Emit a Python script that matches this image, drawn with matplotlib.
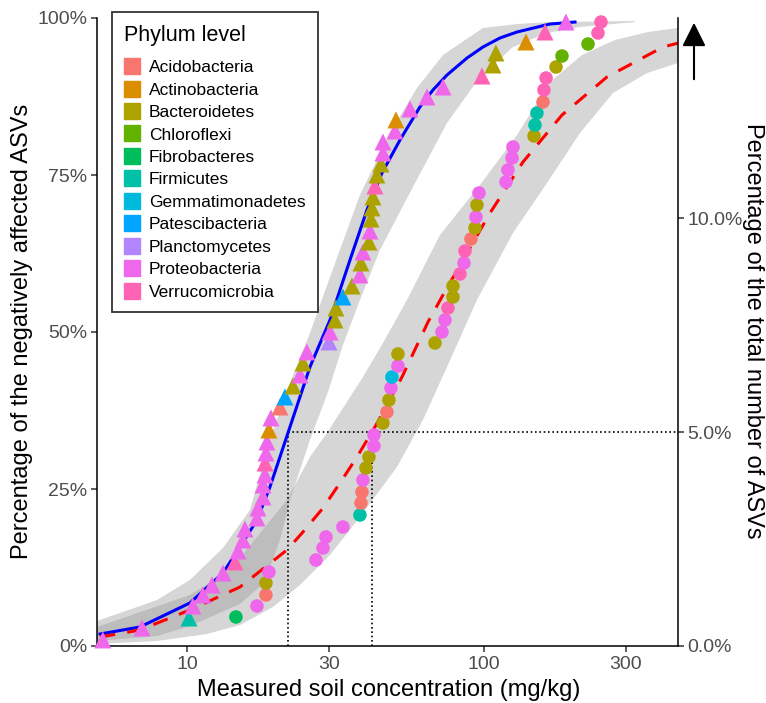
import numpy as np
import matplotlib.pyplot as plt
from matplotlib.lines import Line2D

plt.rcParams['font.family'] = ['Liberation Sans', 'DejaVu Sans']

# phylum names and ggplot hue colours
phyla = ['Acidobacteria', 'Actinobacteria', 'Bacteroidetes', 'Chloroflexi', 'Fibrobacteres',
         'Firmicutes', 'Gemmatimonadetes', 'Patescibacteria', 'Planctomycetes',
         'Proteobacteria', 'Verrucomicrobia']
colors = ['#F8766D', '#DB8E00', '#AEA200', '#64B200', '#00BD5C', '#00C1A7',
          '#00BADE', '#00A6FF', '#B385FF', '#EF67EB', '#FF63B6']
short = {'Aci': 0, 'Act': 1, 'Bac': 2, 'Chl': 3, 'Fib': 4, 'Fir': 5,
         'Gem': 6, 'Pat': 7, 'Pla': 8, 'Pro': 9, 'Ver': 10}

# triangles (first group)
tri_x = [5.21, 7.06, 10.16, 10.47, 11.32, 12.14, 13.22, 14.51, 14.85, 15.44,
         15.68, 17.21, 17.34, 18.03, 18.03, 18.31, 18.31, 18.45, 18.60, 18.88,
         19.18, 20.56, 21.38, 22.75, 24.02, 24.58, 25.35, 30.07, 30.31, 31.50,
         31.75, 33.51, 35.94, 38.23, 38.53, 39.13, 41.00, 41.32, 41.64, 41.97,
         42.30, 42.95, 43.62, 45.00, 45.70, 45.70, 50.15, 50.54, 56.35, 64.29,
         72.78, 98.46, 107.2, 109.7, 138.5, 160.5, 188.8]
tri_y = [0.96, 2.87, 4.46, 6.37, 8.12, 9.71, 11.62, 13.38, 15.13, 16.88,
         18.63, 20.38, 21.97, 23.73, 25.64, 27.23, 29.14, 30.73, 32.48, 34.39,
         36.31, 38.06, 39.65, 41.40, 43.15, 45.06, 46.82, 48.41, 50.00, 51.91,
         53.82, 55.57, 57.32, 59.08, 60.99, 62.74, 64.33, 66.08, 67.99, 69.75,
         71.50, 73.25, 75.00, 76.75, 78.50, 80.25, 82.01, 83.76, 85.51, 87.42,
         89.01, 90.76, 92.52, 94.43, 96.18, 97.77, 99.36]
tri_ph = ['Pro', 'Pro', 'Fir', 'Pro', 'Pro', 'Pro', 'Pro', 'Ver', 'Pro', 'Pro',
          'Pro', 'Pro', 'Pro', 'Pro', 'Pro', 'Pro', 'Ver', 'Pro', 'Pro', 'Act',
          'Pro', 'Aci', 'Pat', 'Bac', 'Pro', 'Bac', 'Pro', 'Pla', 'Pro', 'Bac',
          'Bac', 'Pat', 'Bac', 'Pro', 'Bac', 'Pro', 'Bac', 'Pro', 'Bac', 'Bac',
          'Bac', 'Ver', 'Bac', 'Bac', 'Pro', 'Pro', 'Pro', 'Act', 'Pro', 'Pro',
          'Pro', 'Ver', 'Bac', 'Bac', 'Act', 'Ver', 'Pro']

# circles (second group)
cir_x = [14.62, 17.21, 18.45, 18.45, 18.88, 27.19, 28.71, 29.38, 33.51, 38.23,
         38.53, 38.83, 39.13, 40.06, 41.00, 42.62, 42.62, 45.70, 47.13, 47.87,
         48.62, 49.00, 51.33, 51.33, 68.39, 72.22, 73.91, 75.65, 78.64, 78.64,
         83.04, 85.65, 86.30, 90.41, 93.26, 93.99, 94.71, 96.20, 118.6, 120.4,
         124.3, 125.2, 147.4, 148.5, 150.8, 158.0, 159.2, 161.8, 174.8, 183.1,
         224.0, 242.0, 247.7]
cir_y = [4.62, 6.37, 8.12, 10.03, 11.78, 13.69, 15.61, 17.36, 18.95, 20.86,
         22.77, 24.52, 26.43, 28.34, 30.10, 31.85, 33.60, 35.51, 37.26, 39.17,
         41.08, 42.83, 44.59, 46.50, 48.25, 50.00, 51.91, 53.82, 55.57, 57.32,
         59.24, 60.99, 62.90, 64.81, 66.56, 68.31, 70.22, 72.13, 73.89, 75.80,
         77.71, 79.46, 81.21, 82.96, 84.87, 86.62, 88.54, 90.45, 92.20, 93.95,
         95.86, 97.61, 99.36]
cir_ph = ['Fib', 'Pro', 'Aci', 'Bac', 'Pro', 'Pro', 'Pro', 'Pro', 'Pro', 'Fir',
          'Aci', 'Aci', 'Pro', 'Bac', 'Bac', 'Pro', 'Pro', 'Bac', 'Aci', 'Bac',
          'Pro', 'Gem', 'Pro', 'Bac', 'Bac', 'Pro', 'Pro', 'Ver', 'Bac', 'Bac',
          'Ver', 'Pro', 'Ver', 'Aci', 'Bac', 'Pro', 'Bac', 'Pro', 'Pro', 'Pro',
          'Pro', 'Pro', 'Bac', 'Fir', 'Fir', 'Aci', 'Ver', 'Ver', 'Bac', 'Chl',
          'Chl', 'Ver', 'Ver']

# fitted curves
blue_x = [5.10, 6.95, 10.23, 13.22, 15.08, 17.21, 19.03, 21.88, 25.95, 30.31,
          35.39, 40.37, 45.35, 52.14, 60.86, 67.35, 75.07, 87.67, 99.22, 113.2,
          129.2, 166.8, 202.5]
blue_y = [1.91, 3.03, 6.85, 11.62, 15.76, 20.06, 25.32, 33.92, 44.43, 51.91,
          61.46, 69.43, 75.32, 80.57, 85.83, 88.54, 90.92, 93.63, 95.38, 96.82,
          97.77, 99.04, 99.36]
red_x = [5.10, 6.95, 10.23, 15.08, 21.71, 24.58, 28.71, 32.75, 37.36, 42.95,
         52.96, 64.79, 72.78, 104.8, 135.3, 183.1, 259.5, 400.6, 450.0]
red_y = [1.43, 2.55, 5.73, 9.39, 15.29, 18.15, 21.97, 25.96, 30.10, 34.87,
         42.83, 51.59, 55.89, 68.95, 77.07, 84.55, 90.61, 95.38, 96.00]

# confidence bands (upper and lower edges)
bu_x = [4.98, 7.93, 10.23, 13.22, 16.30, 18.74, 21.88, 25.95, 31.99, 38.23,
        48.25, 59.48, 72.78, 99.22, 129.2, 166.8, 322.4]
bu_y = [3.98, 7.32, 10.51, 15.61, 21.66, 32.01, 41.08, 49.84, 61.78, 71.82,
        81.69, 88.85, 94.11, 98.41, 99.04, 99.36, 99.52]
bl_x = [4.98, 7.93, 10.23, 15.08, 18.31, 20.56, 22.39, 25.95, 29.84, 33.51,
        38.23, 44.65, 57.68, 75.07, 96.94, 125.2, 163.0, 210.5, 322.4]
bl_y = [0.80, 1.59, 3.18, 6.69, 10.19, 16.88, 23.73, 32.80, 40.45, 47.93,
        55.10, 63.06, 73.09, 83.28, 90.61, 95.38, 97.61, 98.57, 99.36]
ru_x = [4.98, 10.23, 13.96, 17.21, 21.71, 25.95, 29.61, 39.13, 45.70, 55.05,
        71.10, 96.94, 129.2, 166.8, 213.8, 276.2, 356.7, 450.0]
ru_y = [3.03, 8.12, 12.10, 17.36, 23.25, 30.10, 33.92, 42.83, 48.25, 55.10,
        65.45, 73.41, 81.37, 89.81, 94.11, 96.50, 97.77, 98.41]
rl_x = [4.98, 7.93, 11.68, 15.08, 19.48, 24.02, 30.31, 38.23, 50.94, 62.30,
        75.07, 94.71, 125.2, 163.0, 210.5, 271.9, 353.9, 450.0]
rl_y = [0.32, 0.80, 1.91, 3.34, 6.21, 9.71, 14.49, 20.54, 28.50, 35.99,
        44.43, 55.10, 65.76, 73.73, 81.69, 88.06, 91.24, 92.83]

# reference lines (right axis units)
cut_y = 5.0
cut_x = [21.9, 42.0]

fig = plt.figure(figsize=(7.66, 7.03), dpi=100)
ax = fig.add_axes([97/766, 57/703, 581/766, 628/703])
ax.set_xscale('log')
ax.set_xlim(4.98, 450)
ax.set_ylim(0, 100)

ax2 = ax.twinx()
ax2.set_ylim(0, 14.673)

for ex, ey, fx, fy in [(bu_x, bu_y, bl_x, bl_y), (ru_x, ru_y, rl_x, rl_y)]:
    ax.fill(np.r_[ex, fx[::-1]], np.r_[ey, fy[::-1]], color='#999999', alpha=0.4, lw=0, zorder=1)

ls_dot = (0, (1, 1.6))
ax.plot([cut_x[0], 450], [cut_y, cut_y], color='black', lw=1.2, ls=ls_dot,
        transform=ax2.transData, zorder=2)
for cx in cut_x:
    ax.plot([cx, cx], [0, cut_y], color='black', lw=1.2, ls=ls_dot,
            transform=ax2.transData, zorder=2)

ax.plot(blue_x, blue_y, color='#0000FF', lw=2.2, zorder=3)
ax.plot(red_x, red_y, color='#FF0000', lw=2.2, dashes=(5, 4), zorder=3)

ax.scatter(tri_x, tri_y, c=[colors[short[p]] for p in tri_ph], marker='^', s=150,
           linewidths=0, zorder=4, clip_on=False)
ax.scatter(cir_x, cir_y, c=[colors[short[p]] for p in cir_ph], marker='o', s=95,
           linewidths=0, zorder=4, clip_on=False)

# axes styling
for a in (ax, ax2):
    a.spines['top'].set_visible(False)
ax.spines['right'].set_visible(False)
ax2.spines['left'].set_visible(False)
ax2.spines['bottom'].set_visible(False)
for sp in [ax.spines['left'], ax.spines['bottom'], ax2.spines['right']]:
    sp.set_linewidth(1.1)
    sp.set_color('black')

ax.set_xticks([10, 30, 100, 300])
ax.set_xticklabels(['10', '30', '100', '300'])
ax.xaxis.set_minor_locator(plt.NullLocator())
ax.set_yticks([0, 25, 50, 75, 100])
ax.set_yticklabels(['0%', '25%', '50%', '75%', '100%'])
ax2.set_yticks([0, 5, 10])
ax2.set_yticklabels(['0.0%', '5.0%', '10.0%'])
for a in (ax, ax2):
    a.tick_params(length=4, width=1.1, color='#333333', labelcolor='#4D4D4D',
                  labelsize=14, pad=3)

fig.text(389/766, 1 - 690/703, 'Measured soil concentration (mg/kg)', fontsize=17,
         ha='center', va='center')
fig.text(22/766, 1 - 331/703, 'Percentage of the negatively affected ASVs', fontsize=17,
         rotation=90, ha='center', va='center')
fig.text(753/766, 1 - 331/703, 'Percentage of the total number of ASVs', fontsize=17,
         rotation=-90, ha='center', va='center')

handles = [Line2D([], [], marker='s', ls='', markersize=11, color=c) for c in colors]
leg = ax.legend(handles, phyla, loc='upper left', bbox_to_anchor=(112/766, 1 - 12/703),
                bbox_transform=fig.transFigure, title='Phylum level', title_fontsize=15.5,
                fontsize=12.5, frameon=True, fancybox=False, edgecolor='black',
                alignment='left', handlelength=0.9, handletextpad=0.5,
                labelspacing=0.42, borderpad=0.72, borderaxespad=0)
leg._legend_box.sep = 10.5
leg.get_frame().set_linewidth(1.3)
leg.set_zorder(10)

ax.annotate('', xy=(694/766, 1 - 20/703), xytext=(694/766, 1 - 82/703),
            xycoords='figure fraction', textcoords='figure fraction',
            arrowprops=dict(arrowstyle='-|>', mutation_scale=36, lw=1.5, color='black'))

fig.savefig('out.png', dpi=100)
